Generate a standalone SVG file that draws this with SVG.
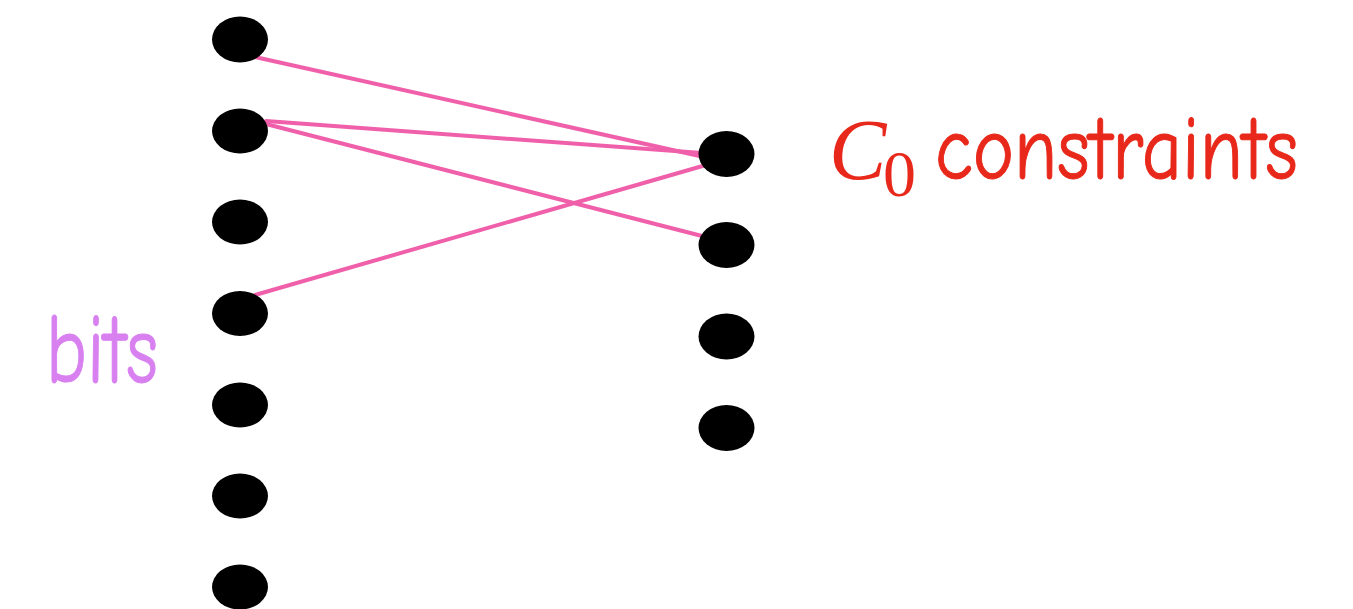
<svg xmlns="http://www.w3.org/2000/svg" width="1353" height="609" viewBox="0 0 1353 609">
<style>
.node{fill:#000}
.edge{stroke:#f060aa;stroke-width:4;fill:none;stroke-linecap:round}
.hand{font-family:"Comic Neue","Liberation Sans",sans-serif}
</style>
<rect width="1353" height="609" fill="#fff"/>
<g id="connectors">
<line class="edge" x1="255" y1="57" x2="704" y2="157"/>
<line class="edge" x1="266" y1="121" x2="702" y2="153"/>
<line class="edge" x1="266" y1="124" x2="702" y2="236"/>
<line class="edge" x1="255" y1="295" x2="706" y2="165"/>
</g>
<g id="bit1"><ellipse class="node" cx="240" cy="39.5" rx="28" ry="23"/></g>
<g id="bit2"><ellipse class="node" cx="240" cy="131" rx="28" ry="22.5"/></g>
<g id="bit3"><ellipse class="node" cx="240" cy="222" rx="28" ry="22.5"/></g>
<g id="bit4"><ellipse class="node" cx="240" cy="313.5" rx="28" ry="22.5"/></g>
<g id="bit5"><ellipse class="node" cx="240" cy="405" rx="28" ry="22.5"/></g>
<g id="bit6"><ellipse class="node" cx="240" cy="496" rx="28" ry="22.5"/></g>
<g id="bit7"><ellipse class="node" cx="240" cy="587" rx="28" ry="22.5"/></g>
<g id="c1"><ellipse class="node" cx="726.5" cy="154" rx="28" ry="23"/></g>
<g id="c2"><ellipse class="node" cx="726.5" cy="245" rx="28" ry="23"/></g>
<g id="c3"><ellipse class="node" cx="726.5" cy="336.5" rx="28" ry="23"/></g>
<g id="c4"><ellipse class="node" cx="726.5" cy="428" rx="28" ry="23"/></g>
<g id="label-constraints" fill="#e8281a">
<text x="829" y="179" font-family="'Liberation Serif',serif" font-style="italic" font-size="86">C</text>
<text x="883" y="196" font-family="'Liberation Serif',serif" font-size="66">0</text>
<text class="hand" x="935" y="179" font-size="90" textLength="363" lengthAdjust="spacingAndGlyphs" stroke="#e8281a" stroke-width="1">constraints</text>
</g>
<g id="label-bits" fill="#d880f0">
<text class="hand" x="46" y="383" font-size="100" textLength="112" lengthAdjust="spacingAndGlyphs" stroke="#d880f0" stroke-width="1">bits</text>
</g>
</svg>
